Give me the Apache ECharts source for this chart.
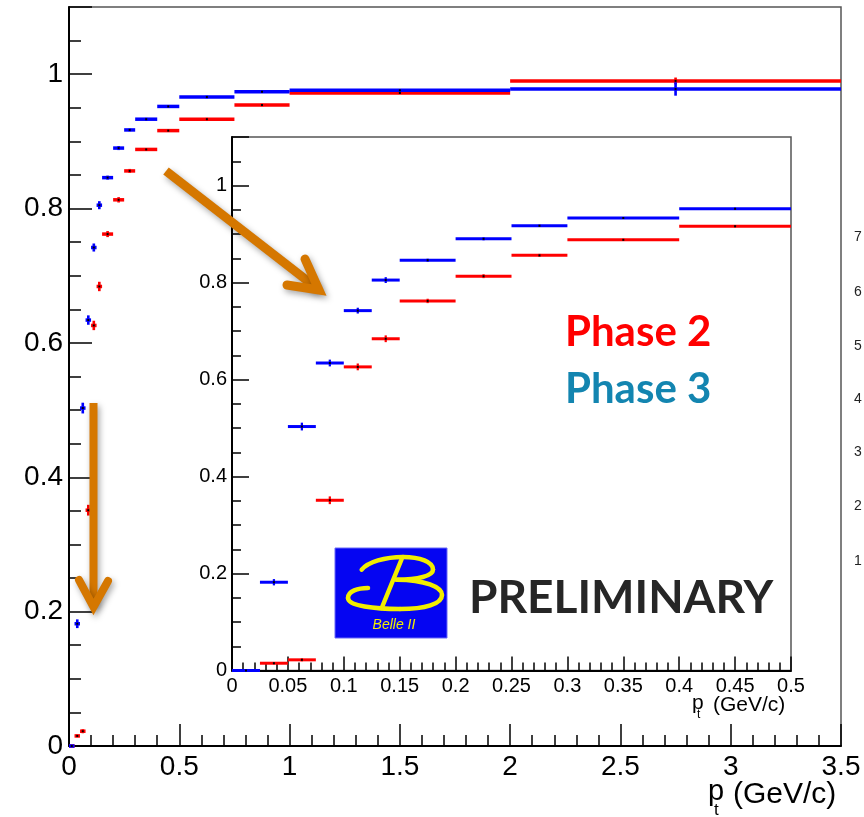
<!DOCTYPE html>
<html>
<head>
<meta charset="utf-8">
<title>Track efficiency vs p_t</title>
<script src="https://cdn.jsdelivr.net/npm/echarts@6/dist/echarts.min.js"></script>
<style>
  html, body { margin: 0; padding: 0; background: #fff; }
  #chart { width: 864px; height: 817px; }
</style>
</head>
<body>
<div id="chart"></div>
<script>
// Bin edges in p_t (GeV/c)
const binLo = [0, 0.025, 0.05, 0.075, 0.1, 0.125, 0.15, 0.2, 0.25, 0.3, 0.4, 0.5, 0.75, 1.0, 2.0];
const binHi = [0.025, 0.05, 0.075, 0.1, 0.125, 0.15, 0.2, 0.25, 0.3, 0.4, 0.5, 0.75, 1.0, 2.0, 3.5];

// Efficiency per bin and its uncertainty
const phase2 = [0, 0.015, 0.022, 0.351, 0.626, 0.684, 0.762, 0.813, 0.856, 0.888, 0.916, 0.933, 0.954, 0.972, 0.990];
const phase2Err = [0, 0.002, 0.003, 0.008, 0.007, 0.007, 0.0045, 0.004, 0.003, 0.002, 0.002, 0.002, 0.002, 0.0015, 0.005];
const phase3 = [0, 0.182, 0.503, 0.634, 0.742, 0.805, 0.846, 0.890, 0.917, 0.933, 0.952, 0.966, 0.974, 0.976, 0.978];
const phase3Err = [0, 0.0065, 0.008, 0.007, 0.006, 0.006, 0.003, 0.003, 0.002, 0.002, 0.002, 0.002, 0.002, 0.0015, 0.010];

// Tick labels shown on the cut-off axis at the right edge
const edgeLabels = ['7', '6', '5', '4', '3', '2', '1'];
const edgeLabelY = [237, 292, 346, 399, 452, 506, 561];

const RED = '#ff0000';
const BLUE = '#0000ff';
const ORANGE = '#d57700';
const YELLOW = '#f2ee00';
const FONT = '"Liberation Sans", Arial, Helvetica, sans-serif';

function rows(vals, errs, maxHi) {
  const out = [];
  for (let i = 0; i < vals.length; i++) {
    if (maxHi !== undefined && binHi[i] > maxHi + 1e-9) continue;
    out.push([binLo[i], binHi[i], vals[i], errs[i]]);
  }
  return out;
}

// Horizontal bin bar + vertical error bar + small centre marker
function binRenderer(color, lw) {
  return function (params, api) {
    const lo = api.value(0), hi = api.value(1), v = api.value(2), e = api.value(3);
    const mid = (lo + hi) / 2;
    const a = api.coord([lo, v]);
    const b = api.coord([hi, v]);
    const c = api.coord([mid, v]);
    const up = api.coord([mid, v + e]);
    const dn = api.coord([mid, v - e]);
    const kids = [
      { type: 'line', shape: { x1: a[0], y1: a[1], x2: b[0], y2: b[1] },
        style: { stroke: color, lineWidth: lw } }
    ];
    if (e > 0) {
      kids.push({ type: 'line', shape: { x1: c[0], y1: up[1], x2: c[0], y2: dn[1] },
        style: { stroke: color, lineWidth: lw * 0.75 } });
    }
    kids.push({ type: 'rect', shape: { x: c[0] - 1, y: c[1] - 1, width: 2, height: 2 },
      style: { fill: '#000' } });
    return { type: 'group', children: kids };
  };
}

function majorY(grid, fontSize, tickLen, margin) {
  return {
    type: 'value', gridIndex: grid, min: 0, max: 1.1, interval: 0.2, position: 'left',
    axisLine: { show: true, lineStyle: { color: '#000', width: 2 } },
    axisTick: { show: true, inside: true, length: tickLen, lineStyle: { color: '#000', width: 1.5 } },
    axisLabel: { show: true, fontSize: fontSize, color: '#000', fontFamily: FONT, margin: margin,
      formatter: function (v) { return v > 1.05 ? '' : String(+v.toFixed(2)); } },
    splitLine: { show: false }
  };
}
function minorY(grid, tickLen) {
  return {
    type: 'value', gridIndex: grid, min: 0, max: 1.1, interval: 0.05, position: 'left',
    axisLine: { show: false },
    axisTick: { show: true, inside: true, length: tickLen, lineStyle: { color: '#000', width: 1.5 } },
    axisLabel: { show: false },
    splitLine: { show: false }
  };
}

function arrow(shaft, head, width) {
  const shadow = { shadowBlur: 6, shadowColor: 'rgba(0,0,0,0.35)', shadowOffsetX: 2, shadowOffsetY: 3 };
  return [
    { type: 'polyline', z: 100, shape: { points: shaft },
      style: Object.assign({ stroke: ORANGE, lineWidth: width, fill: null, lineCap: 'butt' }, shadow) },
    { type: 'polyline', z: 100, shape: { points: head },
      style: Object.assign({ stroke: ORANGE, lineWidth: width, fill: null, lineCap: 'round', lineJoin: 'miter' }, shadow) }
  ];
}

function curve(p0, c1, c2, p1) {
  return { type: 'bezierCurve', z: 101,
    shape: { x1: p0[0], y1: p0[1], cpx1: c1[0], cpy1: c1[1], cpx2: c2[0], cpy2: c2[1], x2: p1[0], y2: p1[1] },
    style: { stroke: YELLOW, lineWidth: 4.5, fill: null, lineCap: 'round' } };
}

const graphics = [];
// Belle II logo
graphics.push({ type: 'rect', z: 100, shape: { x: 335, y: 548, width: 112, height: 90 },
  style: { fill: '#0505f2', stroke: '#6b6bf7', lineWidth: 1 } });
graphics.push(curve([361.7, 569.7], [368, 562], [385, 557], [403, 557]));
graphics.push(curve([403, 557], [420, 557], [433, 562], [433, 569.5]));
graphics.push(curve([433, 569.5], [433, 576], [418, 579.7], [396.7, 579.7]));
graphics.push(curve([396.7, 579.7], [425, 580], [442, 587], [442, 595]));
graphics.push(curve([442, 595], [442, 604], [425, 609], [400, 609]));
graphics.push(curve([400, 609], [375, 609], [348, 606], [348, 598]));
graphics.push(curve([348, 598], [348, 591], [358, 588], [368, 588]));
graphics.push({ type: 'line', z: 101, shape: { x1: 401.7, y1: 559, x2: 381.7, y2: 608 },
  style: { stroke: YELLOW, lineWidth: 4.5, lineCap: 'round' } });
graphics.push({ type: 'text', z: 101, x: 394, y: 625,
  style: { text: 'Belle II', fill: YELLOW, font: 'italic 14px ' + FONT, align: 'center', verticalAlign: 'middle' } });

// Annotations
graphics.push({ type: 'text', z: 100, x: 469, y: 598,
  style: { text: 'PRELIMINARY', fill: '#262626', font: 'bold 46px Lato, "Open Sans", sans-serif', verticalAlign: 'middle' } });
graphics.push({ type: 'text', z: 100, x: 565, y: 332,
  style: { text: 'Phase 2', fill: '#ff0000', font: 'bold 42px Lato, "Open Sans", sans-serif', verticalAlign: 'middle' } });
graphics.push({ type: 'text', z: 100, x: 565, y: 389,
  style: { text: 'Phase 3', fill: '#1385b0', font: 'bold 42px Lato, "Open Sans", sans-serif', verticalAlign: 'middle' } });

// Axis titles
graphics.push({ type: 'text', z: 100, x: 708, y: 792, style: { text: 'p', fill: '#000', font: '29px ' + FONT, verticalAlign: 'middle' } });
graphics.push({ type: 'text', z: 100, x: 714, y: 810, style: { text: 't', fill: '#000', font: '17px ' + FONT, verticalAlign: 'middle' } });
graphics.push({ type: 'text', z: 100, x: 733, y: 795, style: { text: '(GeV/c)', fill: '#000', font: '30px ' + FONT, verticalAlign: 'middle' } });
graphics.push({ type: 'text', z: 100, x: 692, y: 703, style: { text: 'p', fill: '#000', font: '21px ' + FONT, verticalAlign: 'middle' } });
graphics.push({ type: 'text', z: 100, x: 697, y: 715, style: { text: 't', fill: '#000', font: '12px ' + FONT, verticalAlign: 'middle' } });
graphics.push({ type: 'text', z: 100, x: 713, y: 705, style: { text: '(GeV/c)', fill: '#000', font: '21px ' + FONT, verticalAlign: 'middle' } });

// Labels of the neighbouring axis, cut by the page edge
edgeLabels.forEach(function (t, i) {
  graphics.push({ type: 'text', z: 100, x: 854, y: edgeLabelY[i],
    style: { text: t, fill: '#222', font: '14px ' + FONT, verticalAlign: 'middle' } });
});

// Orange arrows
Array.prototype.push.apply(graphics, arrow([[166, 171], [318, 289]], [[305, 259], [319, 290], [287, 285]], 9));
Array.prototype.push.apply(graphics, arrow([[93.5, 403], [93.5, 606]], [[79, 580], [93.5, 607], [108, 581]], 8));

const chart = echarts.init(document.getElementById('chart'), null, { renderer: 'canvas' });
chart.setOption({
  animation: false,
  backgroundColor: '#fff',
  grid: [
    { left: 69, top: 7, width: 772, height: 739, show: true, borderColor: '#555', borderWidth: 1.5, backgroundColor: 'transparent' },
    { left: 232, top: 137, width: 559, height: 533.5, show: true, borderColor: '#555', borderWidth: 1.5, backgroundColor: '#fff' }
  ],
  xAxis: [
    { type: 'value', gridIndex: 0, min: 0, max: 3.5, interval: 0.5,
      axisLine: { show: true, lineStyle: { color: '#000', width: 2 } },
      axisTick: { show: true, inside: true, length: 22, lineStyle: { color: '#000', width: 1.5 } },
      minorTick: { show: true, splitNumber: 5, length: 11, lineStyle: { color: '#000', width: 1.5 } },
      axisLabel: { fontSize: 28, color: '#000', fontFamily: FONT, margin: 7, showMinLabel: true, showMaxLabel: true },
      splitLine: { show: false } },
    { type: 'value', gridIndex: 1, min: 0, max: 0.5, interval: 0.05,
      axisLine: { show: true, lineStyle: { color: '#000', width: 2 } },
      axisTick: { show: true, inside: true, length: 14, lineStyle: { color: '#000', width: 1.5 } },
      minorTick: { show: true, splitNumber: 5, length: 8, lineStyle: { color: '#000', width: 1.5 } },
      axisLabel: { fontSize: 20, color: '#000', fontFamily: FONT, margin: 6, showMinLabel: true, showMaxLabel: true },
      splitLine: { show: false } }
  ],
  yAxis: [
    majorY(0, 28, 23, 6),
    minorY(0, 12),
    majorY(1, 20, 17, 5),
    minorY(1, 9)
  ],
  series: [
    { type: 'custom', name: 'Phase 2', xAxisIndex: 0, yAxisIndex: 0, z: 3,
      data: rows(phase2, phase2Err), encode: { x: [0, 1], y: 2 }, renderItem: binRenderer(RED, 3.5) },
    { type: 'custom', name: 'Phase 3', xAxisIndex: 0, yAxisIndex: 0, z: 4,
      data: rows(phase3, phase3Err), encode: { x: [0, 1], y: 2 }, renderItem: binRenderer(BLUE, 3.5) },
    { type: 'custom', name: 'Phase 2 (low p_t)', xAxisIndex: 1, yAxisIndex: 2, z: 5,
      data: rows(phase2, phase2Err, 0.5), encode: { x: [0, 1], y: 2 }, renderItem: binRenderer(RED, 3) },
    { type: 'custom', name: 'Phase 3 (low p_t)', xAxisIndex: 1, yAxisIndex: 2, z: 6,
      data: rows(phase3, phase3Err, 0.5), encode: { x: [0, 1], y: 2 }, renderItem: binRenderer(BLUE, 3) }
  ],
  graphic: { elements: graphics }
});
</script>
</body>
</html>
